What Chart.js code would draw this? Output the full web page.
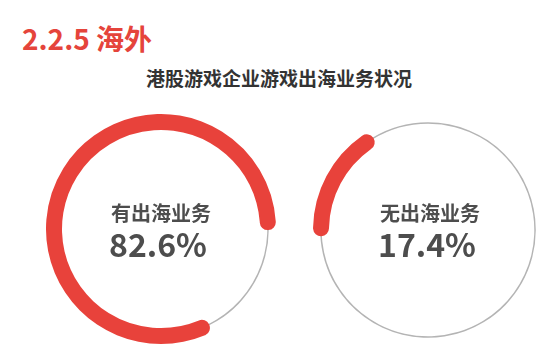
<!DOCTYPE html>
<html>
<head>
<meta charset="utf-8">
<script src="https://cdn.jsdelivr.net/npm/chart.js@4.4.1/dist/chart.umd.min.js"></script>
<style>
  html, body { margin: 0; padding: 0; background: #ffffff; }
  body { width: 543px; height: 348px; overflow: hidden; position: relative;
         font-family: "Noto Sans CJK SC", "Noto Sans", sans-serif; }
  .abs { position: absolute; }
  .box { position: absolute; width: 240px; height: 240px; }
  .title { left: 22px; top: 24px; font-size: 28px; line-height: 28px; font-weight: 700; color: #e5443b; white-space: nowrap; }
  .sub { left: 0; width: 558px; text-align: center; top: 68px; font-size: 19px; line-height: 19px; font-weight: 700; color: #333; white-space: nowrap; }
  .lab { width: 240px; text-align: center; font-weight: 700; color: #4d4d4d; white-space: nowrap; }
  .lab1 { font-size: 20px; line-height: 20px; }
  .lab2 { font-size: 32px; line-height: 32px; }
</style>
</head>
<body>
<div class="abs title">2.2.5 海外</div>
<div class="abs sub">港股游戏企业游戏出海业务状况</div>

<div class="box" style="left:41px;top:109px;z-index:1"><canvas id="g1"></canvas></div>
<div class="box" style="left:41px;top:109px;z-index:2"><canvas id="r1"></canvas></div>
<div class="box" style="left:308px;top:110px;z-index:1"><canvas id="g2"></canvas></div>
<div class="box" style="left:308px;top:110px;z-index:2"><canvas id="r2"></canvas></div>

<div class="abs lab lab1" id="t1a" style="left:41px;top:203px;z-index:3"></div>
<div class="abs lab lab2" id="t1b" style="left:38px;top:227px;z-index:3"></div>
<div class="abs lab lab1" id="t2a" style="left:310px;top:203px;z-index:3"></div>
<div class="abs lab lab2" id="t2b" style="left:307px;top:227px;z-index:3"></div>

<script>
// ---- data ----
const categories = ['有出海业务', '无出海业务'];
const shares = [82.6, 17.4];          // percent of HK-listed game companies
const valueLabels = ['82.6%', '17.4%'];

// ---- style ----
const RED = '#e8423b';
const GRAY = '#b4b4b4';

document.getElementById('t1a').textContent = categories[0];
document.getElementById('t1b').textContent = valueLabels[0];
document.getElementById('t2a').textContent = categories[1];
document.getElementById('t2b').textContent = valueLabels[1];

function baseOptions(radius, cutout, rotation) {
  return {
    responsive: true,
    maintainAspectRatio: false,
    animation: false,
    radius: radius,
    cutout: cutout,
    rotation: rotation,
    layout: { padding: 0 },
    plugins: { legend: { display: false }, tooltip: { enabled: false } },
    events: []
  };
}

function grayRing(id) {
  new Chart(document.getElementById(id), {
    type: 'doughnut',
    data: { labels: categories, datasets: [{
      data: shares,
      backgroundColor: [GRAY, GRAY],
      borderWidth: 0
    }]},
    options: baseOptions(107.8, (106.3 / 107.8 * 100) + '%', 0)
  });
}

function redArc(id, values, colors, rotation) {
  new Chart(document.getElementById(id), {
    type: 'doughnut',
    data: { labels: categories, datasets: [{
      data: values,
      backgroundColor: colors,
      borderWidth: 0,
      borderRadius: 8
    }]},
    options: baseOptions(115, (99 / 115 * 100) + '%', rotation)
  });
}

grayRing('g1');
grayRing('g2');
// left: 有出海业务 share in red, remainder shows thin gray line
redArc('r1', [shares[1], shares[0]], ['rgba(0,0,0,0)', RED], 90.6);
// right: 无出海业务 share in red
redArc('r2', [shares[1], shares[0]], [RED, 'rgba(0,0,0,0)'], 266.7);
</script>
</body>
</html>
